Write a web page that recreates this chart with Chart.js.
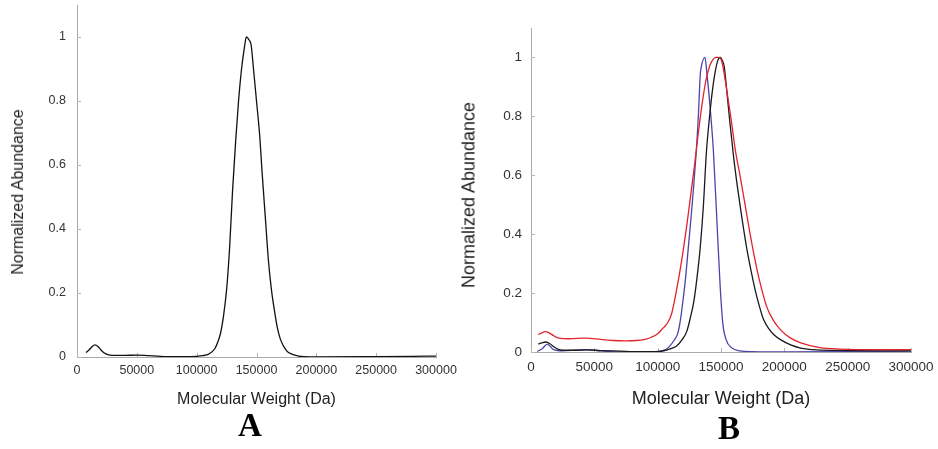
<!DOCTYPE html>
<html>
<head>
<meta charset="utf-8">
<script src="https://cdn.jsdelivr.net/npm/chart.js@4.4.1/dist/chart.umd.min.js"></script>
<style>
  body { margin: 0; background: #fff; }
  #page { position: relative; width: 938px; height: 449px; overflow: hidden; font-family: "Liberation Sans", Arial, sans-serif; }
  .panel { position: absolute; top: 0; height: 449px; }
  #panelA { left: 0; width: 470px; }
  #panelB { left: 470px; width: 468px; }
  .ytitle { position: absolute; white-space: nowrap; color: #222; transform: translate(-50%, -50%) rotate(-90deg); }
  .letter { position: absolute; font-family: "Liberation Serif", "Times New Roman", serif; font-weight: bold; font-size: 33px; line-height: 33px; transform: translateX(-50%); color: #000; }
</style>
</head>
<body>
<div id="page">
  <div class="panel" id="panelA"><canvas id="chartA"></canvas></div>
  <div class="panel" id="panelB"><canvas id="chartB"></canvas></div>
  <div class="ytitle" style="left:18px;top:192px;font-size:16px;">Normalized Abundance</div>
  <div class="ytitle" style="left:469px;top:195px;font-size:18px;">Normalized Abundance</div>
  <div class="letter" style="left:250px;top:409px;">A</div>
  <div class="letter" style="left:729px;top:412px;">B</div>
</div>
<script>
// ticks
var xTicks = [0, 50000, 100000, 150000, 200000, 250000, 300000];
var yTicks = [0, 0.2, 0.4, 0.6, 0.8, 1];

// panel A - single trace
var mwA = [7500, 10000, 12500, 15000, 17500, 20000, 22500, 25000, 30000, 40000, 50000, 60000, 70000, 80000, 90000,
  100000, 105000, 110000, 115000, 117500, 120000, 122500, 125000, 127500, 130000, 132500, 135000, 137500, 140000,
  141500, 144000, 145500, 147500, 150000, 152500, 155000, 157500, 160000, 162500, 165000, 167500, 170000, 175000,
  180000, 185000, 190000, 200000, 250000, 280000, 300000];
var abundA = [0.014, 0.022, 0.032, 0.038, 0.033, 0.022, 0.013, 0.008, 0.005, 0.005, 0.006, 0.004, 0.002, 0.001, 0.001,
  0.002, 0.004, 0.009, 0.025, 0.045, 0.075, 0.13, 0.21, 0.34, 0.52, 0.67, 0.80, 0.90, 0.97,
  1.0, 0.99, 0.975, 0.90, 0.80, 0.70, 0.56, 0.43, 0.30, 0.21, 0.145, 0.09, 0.055, 0.02,
  0.008, 0.003, 0.001, 0.0, 0.001, 0.002, 0.003];

// panel B - red trace
var mwRed = [5800, 8500, 11000, 14000, 18000, 22000, 30000, 43000, 55000, 65000, 75000, 83000, 90000, 95000, 100000,
  104000, 108000, 111000, 114000, 117000, 120000, 123000, 126000, 129000, 132000, 135000, 138000, 141000, 144000,
  146500, 148500, 151000, 154500, 158000, 161500, 165000, 169000, 173000, 176500, 180000, 186000, 191000, 197000,
  205000, 213000, 228000, 245000, 270000, 300000];
var abundRed = [0.059, 0.065, 0.069, 0.066, 0.055, 0.047, 0.045, 0.047, 0.043, 0.039, 0.038, 0.039, 0.043, 0.05, 0.062,
  0.08, 0.10, 0.13, 0.19, 0.26, 0.34, 0.43, 0.53, 0.63, 0.74, 0.84, 0.92, 0.97, 0.995,
  1.0, 1.0, 0.98, 0.89, 0.79, 0.68, 0.60, 0.50, 0.40, 0.32, 0.25, 0.155, 0.11, 0.075,
  0.047, 0.031, 0.015, 0.01, 0.008, 0.008];

// panel B - black trace
var mwBlack = [5800, 8500, 11700, 15000, 18000, 21000, 25000, 35000, 45000, 55000, 70000, 85000, 100000, 107000, 111000,
  115000, 119000, 123000, 126000, 128500, 131000, 133500, 136000, 138500, 141000, 143000, 145200, 147500, 149500,
  151000, 152500, 154500, 157000, 160000, 163000, 166000, 170400, 174000, 177000, 180000, 183600, 188000, 192000,
  197000, 205000, 213000, 225000, 250000, 275000, 300000];
var abundBlack = [0.027, 0.031, 0.034, 0.028, 0.018, 0.01, 0.006, 0.006, 0.007, 0.005, 0.003, 0.001, 0.001, 0.006, 0.012,
  0.02, 0.04, 0.07, 0.12, 0.17, 0.25, 0.35, 0.49, 0.68, 0.80, 0.88, 0.946, 0.99, 1.0,
  0.99, 0.97, 0.89, 0.78, 0.66, 0.56, 0.47, 0.35, 0.27, 0.21, 0.16, 0.11, 0.078, 0.058,
  0.042, 0.024, 0.013, 0.007, 0.005, 0.004, 0.004];

// panel B - blue trace
var mwBlue = [5000, 9000, 12900, 15000, 17000, 21000, 25000, 35000, 43000, 52000, 60000, 70000, 90000, 100000, 104000,
  107000, 109500, 113000, 116000, 118000, 120000, 122000, 124000, 126000, 128000, 130300, 132000, 133600, 134300,
  137300, 139000, 141000, 143900, 146600, 149200, 151400, 154000, 158500, 165000, 175000, 200000, 250000, 300000];
var abundBlue = [0.002, 0.012, 0.027, 0.02, 0.01, 0.005, 0.004, 0.006, 0.008, 0.005, 0.002, 0.0, 0.0, 0.002, 0.005,
  0.01, 0.02, 0.04, 0.065, 0.11, 0.175, 0.25, 0.345, 0.44, 0.54, 0.67, 0.79, 0.94, 0.965,
  1.0, 0.94, 0.85, 0.69, 0.46, 0.234, 0.098, 0.042, 0.014, 0.004, 0.001, 0.0, 0.001, 0.003];

function pts(xs, ys) {
  return xs.map(function(x, i) { return {x: x, y: ys[i]}; });
}

function line(color, xs, ys) {
  return {
    data: pts(xs, ys),
    borderColor: color,
    borderWidth: 1.3,
    pointRadius: 0,
    fill: false,
    cubicInterpolationMode: 'monotone'
  };
}

// short tick marks drawn inside the axes
var innerTicks = {
  id: 'innerTicks',
  beforeDatasetsDraw: function(chart) {
    var ctx = chart.ctx, area = chart.chartArea, sx = chart.scales.x, sy = chart.scales.y;
    ctx.save();
    ctx.strokeStyle = '#b5b5b5';
    ctx.lineWidth = 1;
    ctx.beginPath();
    sx.ticks.forEach(function(t) {
      var px = Math.round(sx.getPixelForValue(t.value)) + 0.5;
      ctx.moveTo(px, area.bottom);
      ctx.lineTo(px, area.bottom - 4);
    });
    sy.ticks.forEach(function(t) {
      var py = Math.round(sy.getPixelForValue(t.value)) + 0.5;
      ctx.moveTo(area.left, py);
      ctx.lineTo(area.left + 4, py);
    });
    ctx.stroke();
    ctx.restore();
  }
};

function makeChart(id, datasets, p) {
  var fam = "'Liberation Sans', Arial, sans-serif";
  var ctx = document.getElementById(id).getContext('2d');
  return new Chart(ctx, {
    type: 'line',
    data: {datasets: datasets},
    plugins: [innerTicks],
    options: {
      responsive: true,
      maintainAspectRatio: false,
      animation: false,
      layout: {padding: {left: 0, top: p.top, right: p.right, bottom: 0}},
      plugins: {legend: {display: false}, tooltip: {enabled: false}},
      scales: {
        x: {
          type: 'linear',
          min: 0,
          max: 300000,
          grid: {display: false, drawTicks: false},
          border: {display: true, color: '#aaa', width: 1},
          afterBuildTicks: function(s) { s.ticks = xTicks.map(function(v) { return {value: v}; }); },
          afterFit: function(s) {
            s.height = p.xHeight;
            s.paddingLeft = 0; s.paddingRight = 0; s.paddingTop = 0; s.paddingBottom = 0;
          },
          ticks: {
            color: '#333',
            padding: p.xPad,
            maxRotation: 0,
            autoSkip: false,
            font: {family: fam, size: p.tickSize},
            callback: function(v) { return String(v); }
          },
          title: {
            display: true,
            text: 'Molecular Weight (Da)',
            color: '#222',
            font: {family: fam, size: p.titleSize},
            padding: {top: 0, bottom: p.titlePad}
          }
        },
        y: {
          type: 'linear',
          min: 0,
          max: 1.1,
          grid: {display: false, drawTicks: false},
          border: {display: true, color: '#aaa', width: 1},
          afterBuildTicks: function(s) { s.ticks = yTicks.map(function(v) { return {value: v}; }); },
          afterFit: function(s) {
            s.width = p.yWidth;
            s.paddingLeft = 0; s.paddingRight = 0; s.paddingTop = 0; s.paddingBottom = 0;
          },
          ticks: {
            color: '#333',
            padding: p.yPad,
            font: {family: fam, size: p.tickSize},
            callback: function(v) { return String(v); }
          }
        }
      }
    }
  });
}

makeChart('chartA', [line('#111', mwA, abundA)],
  {top: 5, right: 34, xHeight: 92, yWidth: 77, xPad: 6.5, yPad: 11, tickSize: 12.5, titleSize: 16, titlePad: 40});

makeChart('chartB', [
    line('#e3232c', mwRed, abundRed),
    line('#1a1a1a', mwBlack, abundBlack),
    line('#4a44ab', mwBlue, abundBlue)
  ],
  {top: 28, right: 27, xHeight: 97, yWidth: 61, xPad: 7, yPad: 9, tickSize: 13.5, titleSize: 18, titlePad: 39});
</script>
</body>
</html>
